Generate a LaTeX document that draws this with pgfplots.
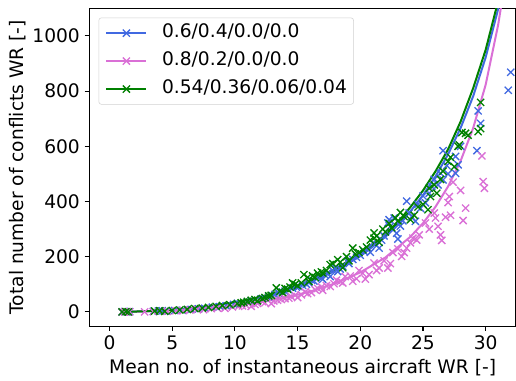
\documentclass[border=0pt]{standalone}
\usepackage{pgfplots}
\pgfplotsset{compat=1.18}
\usepackage{pgfplotstable}
\usepackage{fontspec}
\setmainfont{DejaVu Sans}
\definecolor{cblue}{RGB}{65,105,225}
\definecolor{cpink}{RGB}{218,112,214}
\definecolor{cgreen}{RGB}{0,128,0}

\pgfplotstableread{
x y
1.0 0
1.2 1
1.4 0
1.6 1
3.5 2
3.9 3
4.2 4
4.5 3
5.2 5
5.8 6
6.5 9
7.1 11
7.6 13
8.2 17
8.8 19
9.3 22
9.9 27
10.2 31
10.5 29
11.0 36
11.3 40
11.6 43
12.1 47
12.4 50
12.7 55
13.0 58
13.2 63
13.5 68
13.8 72
14.0 75
14.3 80
14.6 86
14.9 90
15.1 92
15.4 96
15.7 100
15.9 105
16.1 115
16.3 112
16.7 130
16.9 122
17.0 118
17.2 133
17.4 140
17.6 128
17.8 150
18.0 160
18.2 146
18.4 155
18.6 165
19.0 185
19.1 175
19.4 190
19.7 198
20.0 205
20.3 219
20.6 230
20.8 216
21.0 250
21.3 240
21.5 231
21.7 260
21.9 275
22.0 290
22.2 322
22.3 334
22.4 310
22.6 298
22.7 340
22.9 285
23.0 264
23.2 311
23.4 330
23.7 401
23.9 358
24.1 345
24.4 328
24.6 390
24.8 375
25.0 420
25.2 395
25.5 430
25.7 454
25.9 480
26.2 460
26.4 502
26.6 478
26.6 584
26.9 530
27.0 500
27.6 502
27.6 563
27.8 533
28.0 600
29.3 584
29.4 728
29.6 683
31.8 803
32.0 868
}\blueScatter

\pgfplotstableread{
x y
1.0 0
1.2 0
1.4 1
1.6 0
2.8 0
3.5 1
4.0 3
4.6 2
5.3 4
5.9 5
6.4 7
7.0 9
7.5 8
8.1 12
8.6 14
9.2 13
9.8 18
10.3 20
10.6 22
10.9 24
11.3 20
11.6 27
11.8 31
12.2 37
12.4 33
12.9 30
13.1 40
13.4 42
13.7 45
14.0 48
14.3 50
14.5 55
14.8 60
15.0 52
15.3 62
15.6 72
15.8 66
16.1 70
16.4 80
16.6 85
16.9 90
17.0 78
17.3 95
17.6 92
17.9 102
18.1 115
18.4 110
18.6 105
18.8 128
19.2 130
19.4 111
19.7 120
19.9 150
20.2 140
20.4 119
20.7 135
21.1 177
21.3 150
21.5 159
21.9 185
22.2 159
22.4 175
22.6 215
23.0 228
23.3 201
23.5 215
23.7 231
24.0 250
24.2 267
24.5 260
24.7 279
25.2 322
25.5 300
25.9 358
26.0 340
26.2 310
26.4 279
26.5 259
26.8 343
27.0 396
27.1 418
27.2 350
27.4 470
28.0 440
28.2 331
28.4 376
29.7 565
29.8 472
29.9 448
}\pinkScatter

\pgfplotstableread{
x y
1.0 0
1.3 1
1.5 0
3.6 3
4.0 4
4.4 2
5.0 5
5.6 7
6.2 9
6.8 12
7.4 14
7.9 16
8.5 20
9.0 23
9.6 26
10.2 30
10.5 33
10.7 35
11.0 38
11.3 42
11.6 45
11.8 40
12.2 48
12.4 52
12.7 58
12.9 60
13.3 87
13.6 75
13.8 70
14.0 85
14.2 82
14.4 90
14.6 105
14.8 100
15.0 95
15.3 105
15.5 135
15.8 125
15.9 110
16.2 130
16.4 125
16.6 140
16.9 145
17.0 141
17.3 150
17.6 171
17.8 175
18.2 189
18.4 180
18.6 160
18.9 200
19.1 185
19.4 231
19.6 210
19.9 215
20.2 225
20.5 235
20.8 260
21.1 286
21.1 267
21.3 275
21.5 252
21.8 300
22.0 290
22.3 320
22.5 305
22.8 340
23.0 330
23.2 360
23.5 345
24.0 334
24.3 350
24.6 380
25.0 390
25.4 370
25.5 448
25.6 418
25.9 460
26.1 430
26.4 480
26.6 510
27.0 545
27.2 560
27.5 526
27.8 600
27.9 605
28.1 650
28.4 647
28.6 640
29.4 653
29.6 664
29.6 759
}\greenScatter

\pgfplotstableread{
x y
1 0.3
2 1.1
4 4.5
6 10.6
8 20.1
10 33.5
12 51.7
14 75.8
16 107.4
18 148.4
20 201.8
22 271.8
23 314.9
24 364.7
25 422.6
26 490.5
27 570.6
28 666
29 781
30 922
31 1098
31.5 1203
}\blueFit

\pgfplotstableread{
x y
1 0.2
2 0.7
4 2.9
6 7.0
8 13.2
10 22.2
12 34.6
14 51.3
16 73.6
18 103.3
20 143
22 197
24 272.2
25 321.3
26 380.8
27 454.3
28 546.6
29 665.3
30 822.9
31 1040.8
31.5 1183.8
}\pinkFit

\pgfplotstableread{
x y
1 0.3
2 1.1
4 4.7
6 11.2
8 21.1
10 35.2
12 54.3
14 79.5
16 112.5
18 155.3
20 211
22 278.5
23 325
24 379.8
25 439.6
26 509.3
27 588.7
28 689.3
29 810
30 949.5
31 1127
31.5 1231
}\greenFit

\begin{document}
\begin{tikzpicture}
\begin{axis}[
  name=ax,
  scale only axis,
  width=320.5pt, height=238.8pt,
  xmin=-1.62, xmax=32.42, ymin=-52, ymax=1100,
  clip=true,
  xtick={0,5,10,15,20,25,30},
  ytick={0,200,400,600,800,1000},
  tick pos=left, tick align=outside,
  major tick length=3.5pt,
  tick style={black, line width=0.8pt},
  axis line style={black, line width=0.8pt},
  font=\fontsize{14}{16.8}\selectfont,
  ticklabel style={font=\fontsize{14}{16.8}\selectfont},
  /pgf/number format/assume math mode=true,
  /pgf/number format/set thousands separator={},
  xlabel={Mean no. of instantaneous aircraft WR [-]},
  ylabel={Total number of conflicts WR [-]},
  ylabel style={yshift=-2pt},
  legend cell align=left,
  legend style={
    at={(0,1)}, anchor=north west, xshift=7pt, yshift=-7pt,
    draw=black!18, rounded corners=2pt, fill=white, fill opacity=0.8, text opacity=1,
    font=\fontsize{14}{16.8}\selectfont,
    inner xsep=5pt, inner ysep=5pt,
    nodes={inner sep=0pt, text height=10pt, text depth=3pt},
    row sep=8pt,
    /tikz/every odd column/.append style={column sep=11pt},
  },
  legend image code/.code={
    \draw[#1, mark repeat=2, mark phase=2] plot coordinates {(0pt,0pt) (15pt,0pt) (30pt,0pt)};
  },
]
\addplot[only marks, mark=x, mark size=3.8pt, cblue, mark options={line width=1pt}, forget plot] table {\blueScatter};
\addplot[cblue, line width=1.5pt, forget plot] table {\blueFit};
\addplot[only marks, mark=x, mark size=3.8pt, cpink, mark options={line width=1pt}, forget plot] table {\pinkScatter};
\addplot[cpink, line width=1.5pt, forget plot] table {\pinkFit};
\addplot[only marks, mark=x, mark size=3.8pt, cgreen, mark options={line width=1pt}, forget plot] table {\greenScatter};
\addplot[cgreen, line width=1.5pt, forget plot] table {\greenFit};

\addlegendimage{cblue, line width=1.5pt, mark=x, mark size=3.8pt, mark options={line width=1pt}}
\addlegendentry{0.6/0.4/0.0/0.0}
\addlegendimage{cpink, line width=1.5pt, mark=x, mark size=3.8pt, mark options={line width=1pt}}
\addlegendentry{0.8/0.2/0.0/0.0}
\addlegendimage{cgreen, line width=1.5pt, mark=x, mark size=3.8pt, mark options={line width=1pt}}
\addlegendentry{0.54/0.36/0.06/0.04}
\end{axis}
\pgfresetboundingbox
\useasboundingbox ([shift={(-67pt,-40.7pt)}]ax.south west) rectangle ([shift={(0pt,6.2pt)}]ax.north east);
\end{tikzpicture}
\end{document}
